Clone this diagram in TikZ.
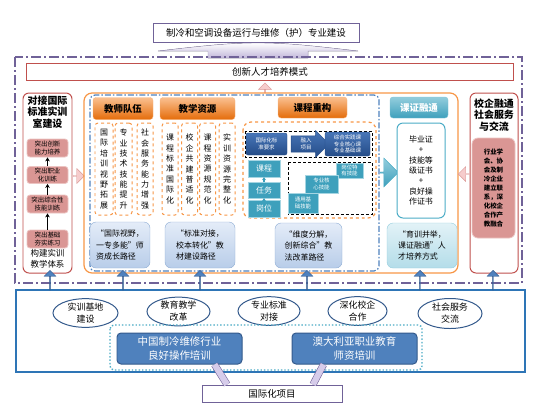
\documentclass[tikz,border=0pt]{standalone}
\usepackage{fontspec}
\setmainfont{Noto Sans CJK SC}
\usetikzlibrary{arrows.meta,shapes.geometric,shapes.arrows}

\definecolor{frameviolet}{RGB}{112,98,152}
\definecolor{calloutfill}{RGB}{214,204,234}
\definecolor{boxred}{RGB}{192,80,77}
\definecolor{pinkfill}{RGB}{218,150,148}
\definecolor{pinkline}{RGB}{236,196,194}
\definecolor{pinklight}{RGB}{246,204,204}
\definecolor{orangeline}{RGB}{247,150,70}
\definecolor{orangedark}{RGB}{228,108,10}
\definecolor{orangelight}{RGB}{250,192,144}
\definecolor{dashblue}{RGB}{79,129,189}
\definecolor{pathtop}{RGB}{228,236,248}
\definecolor{pathbottom}{RGB}{184,205,233}
\definecolor{pathline}{RGB}{141,172,212}
\definecolor{navydark}{RGB}{36,76,136}
\definecolor{navylight}{RGB}{72,118,184}
\definecolor{tealmid}{RGB}{62,160,188}
\definecolor{tealline}{RGB}{75,172,198}
\definecolor{cyantop}{RGB}{226,242,247}
\definecolor{cyanbottom}{RGB}{180,221,233}
\definecolor{bluefill}{RGB}{79,129,189}
\definecolor{blueline}{RGB}{52,90,140}
\definecolor{bottomline}{RGB}{46,117,182}

\begin{document}
\begin{tikzpicture}[x=1bp, y=-1bp,
    every node/.style={font=\fontsize{8}{10}\selectfont, inner sep=0pt},
    framebox/.style={draw=frameviolet, line width=1pt, fill=white, font=\fontsize{9.5}{11}\selectfont},
    redbox/.style={draw=boxred, line width=1pt, fill=white, font=\fontsize{9.5}{11}\selectfont},
    column/.style={draw=boxred, line width=1pt, fill=white, rounded corners=6bp},
    coltitle/.style={align=center, font=\fontsize{10}{11.7}\selectfont\bfseries},
    pinkbox/.style={draw=pinkline, line width=0.8pt, fill=pinkfill, rounded corners=3bp, align=center, font=\fontsize{6.5}{8}\selectfont},
    header/.style={draw=orangeline!70!white, top color=orangelight, bottom color=orangedark, rounded corners=3bp, font=\fontsize{9.5}{11}\selectfont\bfseries},
    vbox/.style={draw=orangeline, dashed, line width=1pt, rounded corners=3bp, fill=white, align=center, font=\fontsize{8}{10.4}\selectfont},
    pathbox/.style={draw=pathline, top color=pathtop, bottom color=pathbottom, rounded corners=6bp, align=left, font=\fontsize{8}{11.5}\selectfont},
    navybox/.style={draw=navydark, top color=navylight, bottom color=navydark, text=white, rounded corners=2bp, align=center, font=\fontsize{5.5}{6.8}\selectfont},
    tealbox/.style={draw=tealline!50!white, fill=tealmid, text=white, align=center},
    oval/.style={ellipse, draw=blueline, line width=1pt, fill=white, align=center, font=\fontsize{9}{12}\selectfont},
    bluebox/.style={draw=blueline, fill=bluefill, text=white, rounded corners=4bp, line width=1pt, align=center, font=\fontsize{10.5}{14}\selectfont},
    uparrow/.style={single arrow, shape border rotate=90, draw=blueline, fill=bluefill, single arrow head extend=2.5bp, minimum width=12bp, minimum height=20bp},
    pinkarrow/.style={single arrow, draw=pinkfill, fill=pinklight, single arrow head extend=3bp, minimum width=15bp, minimum height=11bp},
    blackarrow/.style={-{Stealth[length=4bp,width=4.5bp]}, line width=1.2pt},
    tealarrow/.style={-{Stealth[length=3bp,width=4bp]}, line width=1.5pt, tealmid},
    pointer/.style={draw=frameviolet, double=calloutfill, double distance=6bp, line width=0.6pt}
  ]
  \useasboundingbox (0,0) rectangle (544,407);

  % Programme title and its arrow
  \node[framebox, minimum width=206bp, minimum height=19bp] (title) at (256,32.5) {制冷和空调设备运行与维修（护）专业建设};
  \filldraw[draw=frameviolet!70!white, top color=white, bottom color=calloutfill!80!frameviolet]
    (158,51) .. controls (210,45) and (230,43) .. (258,43)
    .. controls (286,43) and (306,45) .. (358,51)
    -- (308,51) -- (308,58) -- (208,58) -- (208,51) -- cycle;

  % Outer frame
  \draw[frameviolet, line width=1.4pt, dash pattern=on 10bp off 3bp on 2bp off 3bp] (15,57) rectangle (522,283);

  % Innovation mode
  \node[redbox, minimum width=486bp, minimum height=17bp] (mode) at (270,71.5) {创新人才培养模式};
  \node[pinkarrow, shape border rotate=90, minimum height=10bp, minimum width=13bp] (upmode) at (265,88) {};

  % Left column
  \node[column, minimum width=49bp, minimum height=180bp] (leftcol) at (47.5,183) {};
  \node[coltitle] (lefttitle) at (47.5,112) {对接国际\\标准实训\\室建设};
  \node[pinkbox, minimum width=41bp, minimum height=18bp] (lp1) at (47.5,148) {突出创新\\能力培养};
  \node[pinkbox, minimum width=41bp, minimum height=17bp] (lp2) at (47.5,175) {突出职业\\化训练};
  \node[pinkbox, minimum width=41bp, minimum height=18bp] (lp3) at (47.5,204) {突出综合性\\技能训练};
  \node[pinkbox, minimum width=41bp, minimum height=18bp] (lp4) at (47.5,239) {突出基础\\夯实练习};
  \draw[blackarrow] (lp2) -- (lp1);
  \draw[blackarrow] (lp3) -- (lp2);
  \draw[blackarrow] (lp4) -- (lp3);
  \node[align=center, font=\fontsize{8.5}{11}\selectfont] (leftfoot) at (47.5,258.5) {构建实训\\教学体系};
  \node[pinkarrow] (toorange) at (78.5,176) {};

  % Central orange block
  \draw[orangeline, line width=1.2pt, rounded corners=8bp] (84,93) rectangle (458,273);
  \draw[dashblue, line width=1.2pt, dash pattern=on 6bp off 2bp on 1.5bp off 2bp, rounded corners=5bp] (90,95) rectangle (379,271);

  % Teachers
  \node[header, minimum width=60bp, minimum height=22bp] (teachers) at (123,108.5) {教师队伍};
  \node[vbox, minimum width=18bp, minimum height=92bp] (t1) at (104,169) {国\\际\\培\\训\\视\\野\\拓\\展};
  \node[vbox, minimum width=17bp, minimum height=92bp] (t2) at (123.5,169) {专\\业\\技\\术\\技\\能\\提\\升};
  \node[vbox, minimum width=16bp, minimum height=92bp] (t3) at (145,169) {社\\会\\服\\务\\能\\力\\增\\强};
  \node[pathbox, minimum width=60bp, minimum height=46bp] (path1) at (120,245) {“国际视野，\\一专多能”师\\资成长路径};

  % Teaching resources
  \node[header, minimum width=75bp, minimum height=22bp] (resources) at (197.5,108.5) {教学资源};
  \node[vbox, minimum width=16bp, minimum height=92bp] (r1) at (170,169) {课\\程\\标\\准\\国\\际\\化};
  \node[vbox, minimum width=16bp, minimum height=92bp] (r2) at (189.5,169) {校\\企\\共\\建\\普\\适\\化};
  \node[vbox, minimum width=16bp, minimum height=92bp] (r3) at (207.5,169) {课\\程\\资\\源\\规\\范\\化};
  \node[vbox, minimum width=16bp, minimum height=92bp] (r4) at (227,169) {实\\训\\资\\源\\完\\整\\化};
  \node[pathbox, minimum width=70bp, minimum height=46bp] (path2) at (200,245) {“标准对接，\\校本转化”教\\材建设路径};

  % Course reconstruction
  \node[header, minimum width=69bp, minimum height=21bp] (courses) at (312.5,107.5) {课程重构};
  \draw[orangeline, dashed, line width=1.2pt, rounded corners=8bp] (243,122) rectangle (376,218);
  \draw[densely dashed, line width=0.8pt] (245,131) rectangle (372,157);
  \node[navybox, minimum width=41bp, minimum height=22bp] (standard) at (266.5,144) {国际化标\\准要求};
  \node[single arrow, draw=navydark, top color=navylight, bottom color=navydark, text=white, align=center,
        font=\fontsize{5.5}{6.8}\selectfont, single arrow head extend=4bp, minimum width=27bp, minimum height=38bp] (project) at (306,144) {融入\\项目};
  \node[navybox, minimum width=45bp, minimum height=24bp] (coursetypes) at (347.5,144) {综合实践课\\专业核心课\\专业基础课};
  \node[tealbox, minimum width=32bp, minimum height=17bp] (kc) at (264,168.5) {课程};
  \node[tealbox, minimum width=32bp, minimum height=16bp] (rw) at (264,190) {任务};
  \node[tealbox, minimum width=32bp, minimum height=17bp] (gw) at (264,208.5) {岗位};
  \draw[tealarrow] (rw) -- (kc);
  \draw[tealarrow] (gw) -- (rw);
  \draw[densely dashed, line width=0.8pt] (288,162) rectangle (372,214);
  \node[tealbox, font=\fontsize{5.5}{6.8}\selectfont, minimum width=27bp, minimum height=15bp] (skill3) at (349.5,170.5) {岗位特\\有技能};
  \node[tealbox, font=\fontsize{5.5}{6.8}\selectfont, minimum width=33bp, minimum height=18bp] (skill2) at (321.5,184) {专业核\\心技能};
  \node[tealbox, font=\fontsize{5.5}{6.8}\selectfont, minimum width=30bp, minimum height=20bp] (skill1) at (303,203) {通用基\\础技能};
  \node[pathbox, minimum width=67bp, minimum height=45bp] (path3) at (308.5,245.5) {“维度分解，\\创新综合”教\\法改革路径};

  % Certificates
  \node[single arrow, draw=tealline, top color=tealline!60!white, bottom color=tealmid,
        single arrow head extend=5bp, minimum width=29bp, minimum height=18bp] (tocert) at (389,172.5) {};
  \node[header, draw=tealline!70!white, top color=tealline!60!white, bottom color=tealmid, text=white, minimum width=58bp, minimum height=21bp] (certs) at (419,107.5) {课证融通};
  \node[draw=tealline, line width=1pt, fill=white, rounded corners=6bp, minimum width=48bp, minimum height=95bp,
        align=center, font=\fontsize{8}{10.5}\selectfont] (certbox) at (421,170.5) {毕业证\\+\\技能等\\级证书\\+\\良好操\\作证书};
  \node[pathbox, draw=tealline!60!white, top color=cyantop, bottom color=cyanbottom, minimum width=70bp, minimum height=45bp] (path4) at (422,245.5) {“育训并举，\\课证融通”人\\才培养方式};

  % Right column
  \node[column, minimum width=48bp, minimum height=180bp] (rightcol) at (494,183) {};
  \node[coltitle] (righttitle) at (494,115) {校企融通\\社会服务\\与交流};
  \node[pinkbox, font=\fontsize{6.5}{9}\selectfont\bfseries, rounded corners=6bp, minimum width=43bp, minimum height=100bp] (industry) at (493.5,188)
    {行业学\\会、协\\会及制\\冷企业\\建立联\\系，深\\化校企\\合作产\\教融合};
  \node[pinkarrow, shape border rotate=180] (tocenter) at (464,174) {};

  % Bottom platform
  \draw[bottomline, line width=1.3pt, fill=white] (16,290) rectangle (525,372);
  \foreach \x in {50,123,200,307,420,493}
    \node[uparrow] (up\x) at (\x,280.5) {};
  \node[oval, minimum width=65bp, minimum height=28bp] (base) at (85.5,313) {实训基地\\建设};
  \node[oval, minimum width=63bp, minimum height=27bp] (reform) at (178.5,311.5) {教育教学\\改革};
  \node[oval, minimum width=62bp, minimum height=28bp] (norm) at (269,311) {专业标准\\对接};
  \node[oval, minimum width=59bp, minimum height=28bp] (coop) at (357.5,311) {深化校企\\合作};
  \node[oval, minimum width=64bp, minimum height=30bp] (service) at (450,313.5) {社会服务\\交流};
  \draw[tealline, line width=1.4pt, dotted, rounded corners=4bp] (110,325) rectangle (422,370);
  \node[bluebox, minimum width=125bp, minimum height=31bp] (china) at (179.5,348.5) {中国制冷维修行业\\良好操作培训};
  \node[bluebox, minimum width=125bp, minimum height=31bp] (australia) at (354.5,348.5) {澳大利亚职业教育\\师资培训};

  % International projects
  \node[framebox, minimum width=140bp, minimum height=17bp] (intl) at (272,393.5) {国际化项目};
  \draw[pointer] ([xshift=-45bp]intl.north) -- ([xshift=35bp]china.south);
  \draw[pointer] ([xshift=41bp]intl.north) -- ([xshift=-31bp]australia.south);

\end{tikzpicture}
\end{document}
